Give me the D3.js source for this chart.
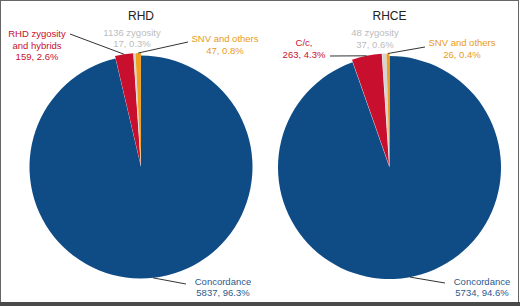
<!DOCTYPE html>
<html><head><meta charset="utf-8">
<script src="https://cdn.jsdelivr.net/npm/d3@7"></script>
<style>html,body{margin:0;padding:0;background:#fff;}svg{display:block;font-family:"Liberation Sans",Arial,sans-serif;}</style>
</head><body>
<svg id="chart" width="520" height="306"></svg>
<script>
const chartTitles = ["RHD", "RHCE"];
const categoriesRHD = ["Concordance", "RHD zygosity and hybrids", "1136 zygosity", "SNV and others"];
const countsRHD = [5837, 159, 17, 47];
const pctRHD = ["96.3%", "2.6%", "0.3%", "0.8%"];
const categoriesRHCE = ["Concordance", "C/c", "48 zygosity", "SNV and others"];
const countsRHCE = [5734, 263, 37, 26];
const pctRHCE = ["94.6%", "4.3%", "0.6%", "0.4%"];
const sliceColors = ["#0f4c86", "#c8102e", "#d4d4d4", "#efa020"];
const labelColors = ["#2d5a8c", "#c8102e", "#bcbcbc", "#e99a1a"];

const svg = d3.select("#chart");
// frame
svg.append("rect").attr("x",0.5).attr("y",0.5).attr("width",518).attr("height",302)
  .attr("fill","none").attr("stroke","#666").attr("stroke-width",1);
svg.append("rect").attr("x",0).attr("y",302).attr("width",520).attr("height",4).attr("fill","#4a4a4a");

const R = 111.5, explode = 2.5;
const colour = d3.scaleOrdinal().domain([0,1,2,3]).range(sliceColors);
const tcolour = d3.scaleOrdinal().domain([0,1,2,3]).range(labelColors);

const charts = [
  {title: chartTitles[0], cats: categoriesRHD, counts: countsRHD, pct: pctRHD, cx: 141, cy: 167,
   labels: [
     {lines: [categoriesRHD[0], countsRHD[0] + ", " + pctRHD[0]], x: 223, y: 284.5, from: [186, 284], edgeAngle: 173.8},
     {lines: ["RHD zygosity", "and hybrids", countsRHD[1] + ", " + pctRHD[1]], x: 37, y: 37, from: [70, 34]},
     {lines: [categoriesRHD[2], countsRHD[2] + ", " + pctRHD[2]], x: 132, y: 35.5},
     {lines: [categoriesRHD[3], countsRHD[3] + ", " + pctRHD[3]], x: 225, y: 42, from: [188, 42]}
   ]},
  {title: chartTitles[1], cats: categoriesRHCE, counts: countsRHCE, pct: pctRHCE, cx: 389.5, cy: 167.5,
   labels: [
     {lines: [categoriesRHCE[0], countsRHCE[0] + ", " + pctRHCE[0]], x: 482, y: 284.5, from: [445, 283], edgeAngle: 169.4},
     {lines: [categoriesRHCE[1] + ",", countsRHCE[1] + ", " + pctRHCE[1]], x: 304, y: 46, from: [330, 56]},
     {lines: [categoriesRHCE[2], countsRHCE[2] + ", " + pctRHCE[2]], x: 375, y: 36},
     {lines: [categoriesRHCE[3], countsRHCE[3] + ", " + pctRHCE[3]], x: 462, y: 46, from: [425, 47]}
   ]}
];

const pie = d3.pie().sort(null).value(d => d);
const arc = d3.arc().innerRadius(0).outerRadius(R);

charts.forEach(c => {
  const arcs = pie(c.counts);
  const g = svg.append("g").attr("transform", `translate(${c.cx},${c.cy})`);
  g.selectAll("path").data(arcs).enter().append("path")
    .attr("d", arc)
    .attr("fill", (d, i) => colour(i))
    .attr("transform", (d, i) => {
      if (i === 0) return null;
      const m = (d.startAngle + d.endAngle) / 2;
      return `translate(${Math.sin(m) * explode},${-Math.cos(m) * explode})`;
    });

  svg.append("text").attr("x", c.cx).attr("y", 19.5).attr("text-anchor", "middle")
    .attr("font-size", 12).attr("fill", "#222").text(c.title);

  c.labels.forEach((lab, i) => {
    const t = svg.append("text").attr("text-anchor", "middle").attr("font-size", 9.5)
      .attr("fill", tcolour(i));
    lab.lines.forEach((ln, k) => {
      t.append("tspan").attr("x", lab.x).attr("y", lab.y + k * 11.6).text(ln);
    });
    if (lab.from) {
      let ex, ey;
      if (i === 0) {
        const a = lab.edgeAngle * Math.PI / 180;
        ex = c.cx + Math.sin(a) * R; ey = c.cy - Math.cos(a) * R;
      } else {
        const d = arcs[i];
        const m = (d.startAngle + d.endAngle) / 2;
        ex = c.cx + Math.sin(m) * (R + explode); ey = c.cy - Math.cos(m) * (R + explode);
      }
      svg.append("line").attr("x1", lab.from[0]).attr("y1", lab.from[1])
        .attr("x2", ex).attr("y2", ey).attr("stroke", "#333").attr("stroke-width", 1);
    }
  });
});
</script>
</body></html>
